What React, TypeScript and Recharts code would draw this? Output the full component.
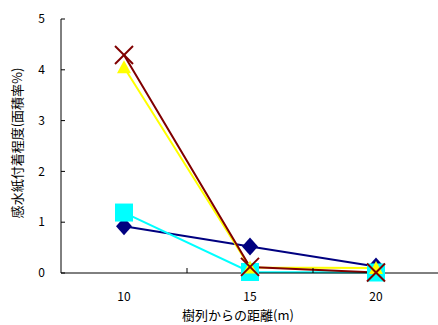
import { LineChart, Line, XAxis, YAxis } from "recharts";

const distances = [10, 15, 20];
const seriesA = [0.92, 0.52, 0.13];
const seriesB = [1.19, 0.02, 0.01];
const seriesC = [4.05, 0.11, 0.1];
const seriesD = [4.29, 0.12, 0.01];
const xTicks = [10, 12.5, 15, 17.5, 20];
const yTicks = [0, 1, 2, 3, 4, 5];

const data = distances.map((d, i) => ({
  x: d,
  a: seriesA[i],
  b: seriesB[i],
  c: seriesC[i],
  d: seriesD[i],
}));

const FONT = "'Noto Sans CJK JP', 'Liberation Sans', sans-serif";

const Diamond = ({ cx, cy }: any) => (
  <polygon points={`${cx},${cy - 9} ${cx + 8},${cy} ${cx},${cy + 9} ${cx - 8},${cy}`} fill="#000080" />
);
const Square = ({ cx, cy }: any) => (
  <rect x={cx - 9} y={cy - 9} width={18} height={18} fill="#00FFFF" />
);
const Triangle = ({ cx, cy }: any) => (
  <polygon points={`${cx},${cy - 7} ${cx + 7},${cy + 6} ${cx - 7},${cy + 6}`} fill="#FFFF00" />
);
const Cross = ({ cx, cy }: any) => (
  <g stroke="#800000" strokeWidth={2}>
    <line x1={cx - 9} y1={cy - 9} x2={cx + 9} y2={cy + 9} />
    <line x1={cx - 9} y1={cy + 9} x2={cx + 9} y2={cy - 9} />
  </g>
);

const XTick = ({ x, y, payload }: any) => {
  if (Number.isInteger(payload.value)) {
    return (
      <text x={x} y={y + 28} textAnchor="middle" fontSize={12} fontFamily={FONT} fill="#000">
        {payload.value}
      </text>
    );
  }
  return <line x1={x} y1={y} x2={x} y2={y - 5} stroke="#000" />;
};

export default function App() {
  return (
    <div style={{ position: "absolute", left: 0, top: 0, background: "#fff" }}>
      <LineChart width={438} height={325} data={data} margin={{ top: 19, right: -1, bottom: 0, left: 0 }}>
        <XAxis
          dataKey="x"
          type="number"
          domain={[7.5, 22.5]}
          ticks={xTicks}
          interval={0}
          tickLine={false}
          tickSize={0}
          tickMargin={0}
          tick={<XTick />}
          height={52}
          axisLine={{ stroke: "#000", strokeWidth: 1 }}
          label={{
            value: "樹列からの距離(m)",
            position: "insideBottom",
            offset: 5,
            dx: -12,
            fontSize: 13,
            fontFamily: FONT,
            fill: "#000",
          }}
        />
        <YAxis
          domain={[0, 5]}
          ticks={yTicks}
          interval={0}
          width={61}
          tickSize={-4}
          tickMargin={20}
          tickLine={{ stroke: "#000" }}
          axisLine={{ stroke: "#000", strokeWidth: 1 }}
          tick={{ fontSize: 12, fontFamily: FONT, fill: "#000" }}
          label={{
            value: "感水紙付着程度(面積率%)",
            angle: -90,
            position: "insideLeft",
            offset: 17,
            dy: -3,
            fontSize: 13,
            fontFamily: FONT,
            fill: "#000",
            style: { textAnchor: "middle" },
          }}
        />
        <Line dataKey="a" stroke="#000080" strokeWidth={2} dot={<Diamond />} isAnimationActive={false} />
        <Line dataKey="b" stroke="#00FFFF" strokeWidth={2} dot={<Square />} isAnimationActive={false} />
        <Line dataKey="c" stroke="#FFFF00" strokeWidth={2} dot={<Triangle />} isAnimationActive={false} />
        <Line dataKey="d" stroke="#800000" strokeWidth={2} dot={<Cross />} isAnimationActive={false} />
      </LineChart>
    </div>
  );
}
